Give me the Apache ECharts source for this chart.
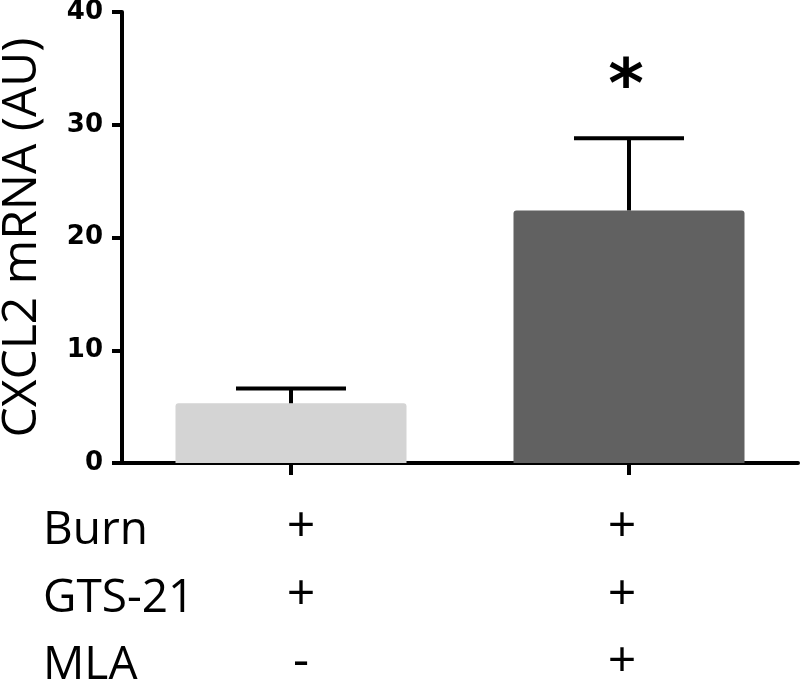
<!DOCTYPE html>
<html>
<head>
<meta charset="utf-8">
<script src="https://cdn.jsdelivr.net/npm/echarts@6/dist/echarts.min.js"></script>
<style>
html, body { margin: 0; padding: 0; background: #fff; }
#chart { width: 800px; height: 679px; }
</style>
</head>
<body>
<div id="chart"></div>
<script>
/* global echarts */
// values
const groups = ['A', 'B'];
const means = [5.3, 22.4];
const errUpper = [6.6, 28.8];
const barColors = ['#d4d4d4', '#616161'];
const sigMarks = ['', '*'];
const sigLevel = [0, 34];
const yMin = 0, yMax = 40, yStep = 10;

// treatment table under the axis
const rowNames = ['Burn', 'GTS-21', 'MLA'];
const burn = ['+', '+'];
const gts21 = ['+', '+'];
const mla = ['-', '+'];

const chart = echarts.init(document.getElementById('chart'));
const TXT = '"Open Sans", "Liberation Sans", sans-serif';
const cellStyle = { fontFamily: TXT, fontSize: 50, fontWeight: 500, color: '#000', lineHeight: 67.5 };

const option = {
    animation: false,
    grid: { left: 122, right: 2, top: 12, bottom: 216, outerBoundsMode: 'none', containLabel: false },
    xAxis: {
        type: 'category',
        data: groups,
        axisLine: { lineStyle: { color: '#000', width: 4 } },
        axisTick: { show: true, length: 12, alignWithLabel: true, lineStyle: { color: '#000', width: 4 } },
        axisLabel: {
            margin: 31,
            lineHeight: 67.5,
            fontFamily: TXT,
            fontSize: 50,
            color: '#000',
            formatter: (v, i) => [burn[i], gts21[i], mla[i]]
                .map(s => `{c${i}|${s}}`).join('\n'),
            rich: {
                c0: Object.assign({ padding: [0, 0, 0, 20] }, cellStyle),
                c1: Object.assign({ padding: [0, 14, 0, 0] }, cellStyle)
            }
        }
    },
    yAxis: {
        type: 'value',
        min: yMin,
        max: yMax,
        interval: yStep,
        name: 'CXCL2 mRNA (AU)',
        nameLocation: 'middle',
        nameRotate: 90,
        nameGap: 76,
        nameTextStyle: { fontFamily: TXT, fontSize: 48, color: '#000' },
        splitLine: { show: false },
        axisLine: { show: true, lineStyle: { color: '#000', width: 4 } },
        axisTick: { show: true, length: 10, lineStyle: { color: '#000', width: 4 } },
        axisLabel: {
            margin: 19,
            fontFamily: '"DejaVu Sans", sans-serif',
            fontWeight: 'bold',
            fontSize: 26,
            color: '#000'
        }
    },
    graphic: rowNames.map((name, i) => ({
        type: 'text',
        left: 43,
        top: 529 + i * 67.5 - 21,
        style: { text: name, font: '46px ' + TXT, fill: '#000' }
    })),
    series: [
        {
            type: 'bar',
            barWidth: 231,
            data: means.map((v, i) => ({
                value: v,
                itemStyle: { color: barColors[i], borderRadius: [3, 3, 0, 0] }
            })),
            z: 1
        },
        {
            type: 'custom',
            data: groups.map((g, i) => [i, means[i], errUpper[i]]),
            renderItem: (params, api) => {
                const base = api.coord([api.value(0), api.value(1)]);
                const top = api.coord([api.value(0), api.value(2)]);
                const half = 55;
                const style = { stroke: '#000', lineWidth: 4 };
                return {
                    type: 'group',
                    children: [
                        { type: 'line', shape: { x1: base[0], y1: base[1], x2: top[0], y2: top[1] }, style },
                        { type: 'line', shape: { x1: top[0] - half, y1: top[1], x2: top[0] + half, y2: top[1] }, style }
                    ]
                };
            },
            z: 3
        },
        {
            type: 'custom',
            data: groups.map((g, i) => [i, sigLevel[i]]),
            renderItem: (params, api) => {
                const mark = sigMarks[params.dataIndex];
                if (!mark) return null;
                const p = api.coord([api.value(0), api.value(1)]);
                return {
                    type: 'text',
                    x: p[0] - 3,
                    y: p[1] + 10,
                    style: {
                        text: mark,
                        font: 'bold 68px "DejaVu Sans", sans-serif',
                        fill: '#000',
                        align: 'center',
                        verticalAlign: 'middle'
                    }
                };
            },
            z: 3
        }
    ]
};

chart.setOption(option);
window.addEventListener('resize', () => chart.resize());
</script>
</body>
</html>
